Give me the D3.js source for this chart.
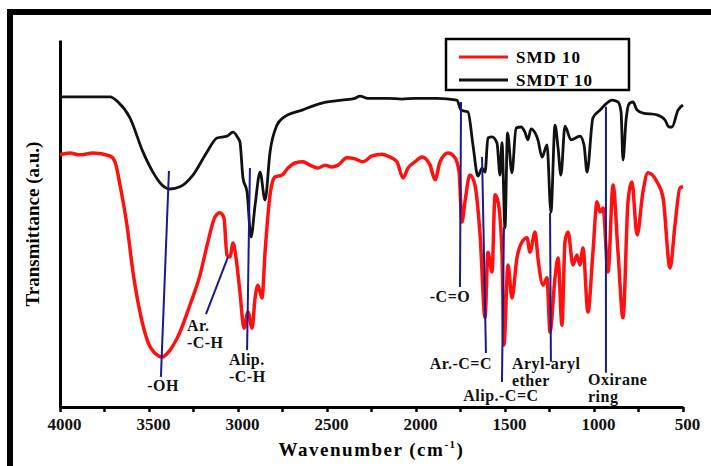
<!DOCTYPE html>
<html>
<head>
<meta charset="utf-8">
<script src="https://cdn.jsdelivr.net/npm/d3@7"></script>
<style>
  body { margin: 0; background: #fff; }
  text { font-family: "Liberation Serif", "Times New Roman", serif; font-weight: bold; }
</style>
</head>
<body>
<div id="chart"></div>
<script>
// FTIR spectra, SMD 10 vs SMDT 10

var width = 711;
var height = 466;

// wavenumber (cm-1) and transmittance (a.u., 0-100)
var smdtWave = [4000, 3719, 3674, 3607, 3534, 3478, 3427, 3382, 3326, 3253, 3174, 3118, 3062, 3028, 3000,
  2989, 2972, 2949, 2927, 2904, 2876, 2848, 2820, 2781, 2747, 2640, 2528, 2416, 2343, 2315, 2270, 2157,
  2079, 2006, 1882, 1770, 1747, 1708, 1680, 1652, 1629, 1612, 1596, 1573, 1545, 1528, 1517, 1500, 1486,
  1461, 1438, 1410, 1388, 1371, 1354, 1331, 1315, 1292, 1264, 1242, 1219, 1202, 1186, 1163, 1129, 1079,
  1056, 1039, 1006, 966, 933, 899, 865, 848, 837, 820, 803, 781, 758, 725, 646, 601, 579, 562, 528, 500];
var smdtT = [84.5, 84.5, 83.1, 78.8, 69.5, 64.0, 60.5, 59.4, 60.0, 63.2, 69.5, 73.3, 73.8, 74.9, 73.3,
  72.2, 62.4, 58.6, 46.3, 55.0, 64.0, 56.4, 69.5, 76.8, 78.8, 80.9, 82.8, 83.6, 84.1, 84.7, 84.1, 84.1,
  83.9, 84.1, 84.1, 83.6, 80.9, 80.4, 71.4, 62.9, 65.1, 64.0, 73.3, 73.6, 71.9, 63.2, 72.0, 48.8, 74.7,
  63.8, 76.0, 76.3, 74.9, 72.8, 75.8, 74.7, 72.8, 68.1, 71.4, 53.1, 76.8, 70.6, 63.2, 76.5, 72.8, 73.8,
  71.4, 64.0, 78.8, 80.9, 82.6, 83.6, 83.1, 80.4, 67.3, 78.2, 82.6, 83.1, 80.9, 80.1, 79.6, 78.2, 76.3, 76.3, 80.9, 82.3];

var smdWave = [4000, 3944, 3888, 3815, 3719, 3691, 3663, 3624, 3590, 3551, 3506, 3455, 3427, 3382, 3326,
  3270, 3213, 3169, 3129, 3101, 3079, 3062, 3045, 3028, 3011, 2989, 2966, 2944, 2921, 2904, 2888, 2865,
  2848, 2820, 2792, 2753, 2719, 2680, 2635, 2596, 2551, 2511, 2472, 2438, 2388, 2343, 2298, 2247, 2191,
  2146, 2107, 2073, 2045, 2006, 1966, 1921, 1893, 1865, 1820, 1781, 1758, 1742, 1725, 1697, 1669, 1640,
  1612, 1596, 1573, 1556, 1539, 1517, 1506, 1483, 1461, 1433, 1404, 1376, 1360, 1331, 1315, 1286, 1264,
  1247, 1219, 1202, 1180, 1163, 1146, 1118, 1096, 1079, 1062, 1034, 1006, 983, 966, 949, 921, 893, 865,
  837, 809, 787, 758, 725, 697, 646, 612, 573, 545, 517, 500];
var smdT = [68.7, 69.2, 68.7, 69.2, 68.4, 66.8, 60.5, 49.6, 36.8, 25.9, 17.7, 14.2, 13.6, 15.5, 20.4,
  27.8, 36.0, 45.0, 51.8, 52.9, 51.5, 41.4, 40.9, 44.7, 40.6, 31.3, 21.5, 25.9, 21.5, 29.7, 33.2, 29.7,
  42.2, 57.8, 62.7, 63.2, 65.1, 66.5, 66.8, 65.9, 65.1, 65.9, 65.4, 65.9, 67.9, 67.6, 66.8, 68.4, 68.9,
  68.1, 66.8, 62.4, 65.1, 66.8, 68.1, 65.9, 61.9, 66.8, 69.2, 67.9, 64.0, 50.4, 55.9, 63.2, 60.5, 46.9,
  24.3, 42.2, 36.8, 57.8, 55.9, 42.2, 16.9, 38.7, 29.7, 40.6, 45.0, 46.1, 42.2, 47.7, 40.6, 33.2, 35.2,
  20.4, 35.2, 40.6, 22.3, 45.0, 47.7, 38.7, 41.4, 38.7, 43.3, 25.9, 42.2, 55.9, 53.1, 54.2, 36.8, 60.5, 42.2,
  24.3, 55.9, 61.3, 46.9, 58.6, 63.8, 61.3, 57.0, 37.9, 49.6, 59.7, 60.0];

var majorTicks = [4000, 3500, 3000, 2500, 2000, 1500, 1000, 500];
var minorTicks = [3750, 3250, 2750, 2250, 1750, 1250, 750];

var seriesNames = ["SMD 10", "SMDT 10"];
var seriesColors = ["#ff1111", "#111111"];

// band assignments: line from (w1,t1) to (w2,t2), text anchored at (tw,tt)
var bands = [
  {lines: ["-OH"], w1: 3388, t1: 64.3, w2: 3433, t2: 8.2, tw: 3421, tt: 4.4, anchor: "middle"},
  {lines: ["Ar.", "-C-H"], w1: 3056, t1: 40.9, w2: 3180, t2: 25.3, tw: 3287, tt: 20.7, anchor: "start"},
  {lines: ["Alip.", "-C-H"], w1: 2933, t1: 65.1, w2: 2949, t2: 15.5, tw: 3051, tt: 11.4, anchor: "start"},
  {lines: ["-C=O"], w1: 1747, t1: 83.1, w2: 1753, t2: 32.7, tw: 1809, tt: 28.6, anchor: "middle"},
  {lines: ["Ar.-C=C"], w1: 1629, t1: 68.1, w2: 1607, t2: 14.7, tw: 1573, tt: 10.4, anchor: "end"},
  {lines: ["Alip.-C=C"], w1: 1506, t1: 49.1, w2: 1517, t2: 6.8, tw: 1523, tt: 1.6, anchor: "middle"},
  {lines: ["Aryl-aryl", "ether"], w1: 1247, t1: 52.9, w2: 1242, t2: 12.3, tw: 1461, tt: 10.4, anchor: "start"},
  {lines: ["Oxirane", "ring"], w1: 933, t1: 81.8, w2: 933, t2: 9.3, tw: 1034, tt: 6.0, anchor: "start"}
];

var svg = d3.select("div#chart")
    .append("svg")
    .attr("width", width)
    .attr("height", height);

// outer frame, cut by the picture edge on the right and bottom
svg.append("rect")
    .attr("x", 10).attr("y", 12)
    .attr("width", 760).attr("height", 520)
    .attr("fill", "none")
    .attr("stroke", "#000")
    .attr("stroke-width", 6);

var x = d3.scaleLinear().domain([4000, 500]).range([60, 683]);
var y = d3.scaleLinear().domain([0, 100]).range([407, 40]);

var xAxis = svg.append("g")
    .attr("transform", "translate(0,407)")
    .call(d3.axisBottom(x).tickValues(majorTicks).tickSize(5).tickSizeOuter(0).tickFormat(d3.format("d")));
xAxis.select(".domain").attr("stroke-width", 3);
xAxis.selectAll(".tick line").attr("stroke-width", 2.5);
xAxis.selectAll(".tick text")
    .attr("y", 11)
    .attr("dx", 4)
    .style("font-size", "17px")
    .style("font-family", "'Liberation Serif', serif")
    .style("font-weight", "bold")
    .attr("fill", "#111");

svg.append("g")
    .attr("transform", "translate(0,407)")
    .selectAll("line")
    .data(minorTicks)
    .enter()
    .append("line")
    .attr("x1", (d) => x(d)).attr("x2", (d) => x(d))
    .attr("y1", 0).attr("y2", 5)
    .attr("stroke", "#000")
    .attr("stroke-width", 2.5);

var yAxis = svg.append("g")
    .attr("transform", "translate(60,0)")
    .call(d3.axisLeft(y).tickValues([]).tickSizeOuter(0));
yAxis.select(".domain").attr("stroke-width", 3);

svg.append("text")
    .attr("x", x(2250))
    .attr("y", 456)
    .attr("text-anchor", "middle")
    .style("font-size", "19px")
    .style("letter-spacing", "1.5px")
    .text("Wavenumber (cm")
    .append("tspan")
    .attr("dy", -8)
    .style("font-size", "11px")
    .text("-1")
    .select(function() { return this.parentNode; })
    .append("tspan")
    .attr("dy", 8)
    .text(")");

svg.append("text")
    .attr("transform", "translate(39,224) rotate(-90)")
    .attr("text-anchor", "middle")
    .style("font-size", "19px")
    .text("Transmittance (a.u.)");

var line = d3.line()
    .x((d) => x(d[0]))
    .y((d) => y(d[1]))
    .curve(d3.curveMonotoneX);

var series = [d3.zip(smdWave, smdT), d3.zip(smdtWave, smdtT)];

svg.selectAll("path.spectrum")
    .data(series)
    .enter()
    .append("path")
    .attr("class", "spectrum")
    .attr("d", line)
    .attr("fill", "none")
    .attr("stroke", (d, i) => seriesColors[i])
    .attr("stroke-width", (d, i) => i == 0 ? 3.5 : 2.8)
    .attr("stroke-linejoin", "round");

// assignment lines and labels
var band = svg.selectAll("g.band")
    .data(bands)
    .enter()
    .append("g")
    .attr("class", "band");

band.append("line")
    .attr("x1", (d) => x(d.w1)).attr("y1", (d) => y(d.t1))
    .attr("x2", (d) => x(d.w2)).attr("y2", (d) => y(d.t2))
    .attr("stroke", "#1a1a8c")
    .attr("stroke-width", 2);

band.append("text")
    .attr("x", (d) => x(d.tw))
    .attr("y", (d) => y(d.tt))
    .attr("text-anchor", (d) => d.anchor)
    .style("font-size", "16px")
    .style("letter-spacing", "0.5px")
    .attr("fill", "#111")
    .selectAll("tspan")
    .data((d) => d.lines.map((t) => ({t: t, x: x(d.tw)})))
    .enter()
    .append("tspan")
    .attr("x", (d) => d.x)
    .attr("dy", (d, i) => i == 0 ? 0 : 17)
    .text((d) => d.t);

// legend
var legend = svg.append("g").attr("transform", "translate(446,39)");
legend.append("rect")
    .attr("width", 183).attr("height", 51)
    .attr("fill", "#fff")
    .attr("stroke", "#000")
    .attr("stroke-width", 2.5);

var item = legend.selectAll("g.item")
    .data(seriesNames)
    .enter()
    .append("g")
    .attr("class", "item")
    .attr("transform", (d, i) => "translate(0," + (18 + i * 23) + ")");

item.append("line")
    .attr("x1", 13).attr("x2", 62)
    .attr("stroke", (d, i) => seriesColors[i])
    .attr("stroke-width", 3);

item.append("text")
    .attr("x", 70)
    .attr("y", 6)
    .style("font-size", "17px")
    .style("letter-spacing", "1px")
    .text((d) => d);
</script>
</body>
</html>
